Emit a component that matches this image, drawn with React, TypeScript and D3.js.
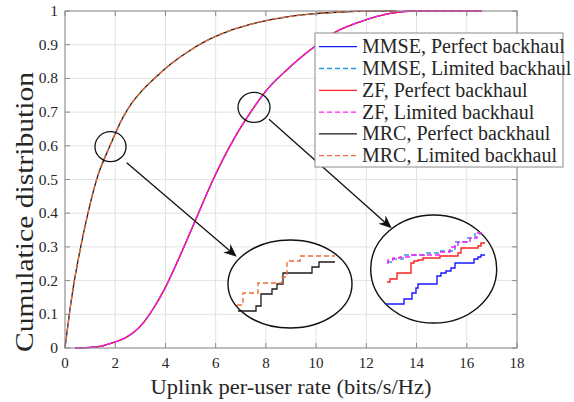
import React from 'react';
import * as d3 from 'd3';

const W = 574;
const H = 402;

// Axis ticks
const xTicks = [0, 2, 4, 6, 8, 10, 12, 14, 16, 18];
const yTicks = [0, 0.1, 0.2, 0.3, 0.4, 0.5, 0.6, 0.7, 0.8, 0.9, 1];
const yTickLabels = ['0', '0.1', '0.2', '0.3', '0.4', '0.5', '0.6', '0.7', '0.8', '0.9', '1'];

// MRC CDF (perfect and limited backhaul coincide)
const mrcRate = [0, 0.1, 0.2, 0.33, 0.62, 0.89, 1.26, 1.79, 2.32, 2.65, 3.0, 3.59, 4.2, 4.85, 5.64, 6.44, 7.37, 8.3, 9.76, 11.0, 12.2, 13.2];
const mrcCdf = [0, 0.058, 0.115, 0.18, 0.298, 0.392, 0.5, 0.6, 0.686, 0.726, 0.758, 0.802, 0.842, 0.877, 0.912, 0.938, 0.96, 0.976, 0.991, 0.997, 0.9995, 1.0];

// ZF / MMSE CDF (curves overlap at this scale)
const zfRate = [0.4, 1.0, 1.4, 2.0, 2.4, 3.1, 3.5, 4.0, 4.5, 5.2, 5.9, 6.7, 7.44, 8.03, 8.83, 9.76, 10.68, 11.75, 12.95, 14.0, 16.6];
const zfCdf = [0, 0.002, 0.005, 0.018, 0.03, 0.073, 0.115, 0.18, 0.26, 0.38, 0.5, 0.617, 0.705, 0.765, 0.825, 0.884, 0.934, 0.968, 0.993, 1.0, 1.0];

const seriesNames = [
  'MMSE, Perfect backhaul',
  'MMSE, Limited backhaul',
  'ZF, Perfect backhaul',
  'ZF, Limited backhaul',
  'MRC, Perfect backhaul',
  'MRC, Limited backhaul',
];
const seriesColors = ['#1a1aff', '#2b9be0', '#ff2020', '#ff19ff', '#1a1a1a', '#f06a35'];
const seriesDashed = [false, true, false, true, false, true];
const seriesKind = ['zf', 'zf', 'zf', 'zf', 'mrc', 'mrc'];

// Magnified views (local units)
const inset1Perfect = [[2, 1], [20, 6], [25, 18], [36, 23], [41, 28], [47, 39], [76, 45], [83, 50], [99, 50]];
const inset1Limited = [[1, 7], [7, 19], [22, 29], [46, 35], [51, 51], [64, 56], [99, 56]];
const inset2MmsePerfect = [[1, 6], [19, 11], [27, 17], [31, 22], [33, 26], [52, 34], [56, 37], [61, 39], [66, 42], [70, 47], [89, 51], [93, 53], [96, 55], [100, 55]];
const inset2ZfPerfect = [[2, 28], [5, 31], [12, 37], [26, 47], [29, 49], [33, 50], [38, 52], [55, 54], [73, 57], [76, 62], [93, 64], [96, 67], [100, 67]];
const inset2ZfLimited = [[2, 47], [3, 50], [8, 52], [15, 53], [25, 55], [55, 58], [65, 63], [73, 68], [85, 72], [92, 77], [98, 79]];
const inset2MmseLimited = [[2, 48], [7, 51], [18, 55], [42, 57], [55, 59], [70, 68], [82, 72], [90, 76], [95, 78]];

const FONT = "'Liberation Serif', 'Times New Roman', Times, serif";

export default function App() {
  const left = 65, right = 517, top = 11, bottom = 348;
  const x = d3.scaleLinear().domain([0, 18]).range([left, right]);
  const y = d3.scaleLinear().domain([0, 1]).range([bottom, top]);

  const line = d3.line<[number, number]>().x(d => x(d[0])).y(d => y(d[1])).curve(d3.curveMonotoneX);
  const mrcPts: [number, number][] = mrcRate.map((r, i) => [r, mrcCdf[i]]);
  const zfPts: [number, number][] = zfRate.map((r, i) => [r, zfCdf[i]]);

  // inset scales
  const i1x = d3.scaleLinear().domain([0, 100]).range([236, 336]);
  const i1y = d3.scaleLinear().domain([0, 60]).range([312, 252]);
  const i2x = d3.scaleLinear().domain([0, 100]).range([385, 485]);
  const i2y = d3.scaleLinear().domain([0, 100]).range([310, 210]);
  const step1 = d3.line<number[]>().x(d => i1x(d[0])).y(d => i1y(d[1])).curve(d3.curveStepAfter);
  const step2 = d3.line<number[]>().x(d => i2x(d[0])).y(d => i2y(d[1])).curve(d3.curveStepAfter);

  const legX = 315, legY = 33, legW = 248, legH = 134, rowH = 21.8;

  const arrowHead = (x1: number, y1: number, x2: number, y2: number) => {
    const ang = Math.atan2(y2 - y1, x2 - x1);
    const L = 13, wd = 5.5, back = 9;
    const p = (dx: number, dy: number) => [x2 + dx * Math.cos(ang) - dy * Math.sin(ang), y2 + dx * Math.sin(ang) + dy * Math.cos(ang)];
    const a = p(-L, -wd), b = p(-back, 0), c = p(-L, wd);
    return `M${x2},${y2}L${a[0]},${a[1]}L${b[0]},${b[1]}L${c[0]},${c[1]}Z`;
  };

  const txt = { fontFamily: FONT };

  return (
    <svg width={W} height={H} style={{ position: 'absolute', left: 0, top: 0, background: '#fff' }}>
      <rect x={0} y={0} width={W} height={H} fill="#fff" />
      {/* grid */}
      {xTicks.map(t => (
        <line key={'gx' + t} x1={x(t)} x2={x(t)} y1={top} y2={bottom} stroke="#e3e3e3" strokeWidth={1} />
      ))}
      {yTicks.map(t => (
        <line key={'gy' + t} x1={left} x2={right} y1={y(t)} y2={y(t)} stroke="#e3e3e3" strokeWidth={1} />
      ))}
      {/* curves */}
      {seriesNames.map((n, i) => (
        <path key={n} d={line(seriesKind[i] === 'zf' ? zfPts : mrcPts) || ''} fill="none"
          stroke={seriesColors[i]} strokeWidth={1.3} strokeDasharray={seriesDashed[i] ? '5,3' : undefined} />
      ))}
      {/* axes box */}
      <rect x={left} y={top} width={right - left} height={bottom - top} fill="none" stroke="#8a8a8a" strokeWidth={1} />
      {xTicks.map(t => (
        <g key={'tx' + t}>
          <line x1={x(t)} x2={x(t)} y1={bottom} y2={bottom - 5} stroke="#8a8a8a" />
          <line x1={x(t)} x2={x(t)} y1={top} y2={top + 5} stroke="#8a8a8a" />
          <text x={x(t)} y={368} textAnchor="middle" fontSize={15} fill="#262626" style={txt}>{t}</text>
        </g>
      ))}
      {yTicks.map((t, i) => (
        <g key={'ty' + t}>
          <line x1={left} x2={left + 5} y1={y(t)} y2={y(t)} stroke="#8a8a8a" />
          <line x1={right} x2={right - 5} y1={y(t)} y2={y(t)} stroke="#8a8a8a" />
          <text x={58} y={y(t) + 5} textAnchor="end" fontSize={15.5} fill="#262626" style={txt}>{yTickLabels[i]}</text>
        </g>
      ))}
      <text x={291} y={394} textAnchor="middle" fontSize={21} fill="#262626" style={txt} textLength={281} lengthAdjust="spacingAndGlyphs">Uplink per-user rate (bits/s/Hz)</text>
      <text transform={`translate(33,212) rotate(-90)`} textAnchor="middle" fontSize={25} fill="#262626" style={txt} textLength={280} lengthAdjust="spacingAndGlyphs">Cumulatice distribution</text>

      {/* small circles */}
      <ellipse cx={110.5} cy={146.7} rx={15.5} ry={15} fill="none" stroke="#111" strokeWidth={1.3} />
      <ellipse cx={254} cy={107.3} rx={16} ry={15} fill="none" stroke="#111" strokeWidth={1.3} />
      {/* arrows */}
      <line x1={126.7} y1={162.7} x2={233} y2={253.5} stroke="#111" strokeWidth={1.3} />
      <path d={arrowHead(126.7, 162.7, 236.7, 256.7)} fill="#111" />
      <line x1={269} y1={119.3} x2={388.5} y2={225.5} stroke="#111" strokeWidth={1.3} />
      <path d={arrowHead(269, 119.3, 391.7, 228.3)} fill="#111" />
      {/* inset 1 */}
      <ellipse cx={290} cy={284} rx={62} ry={44} fill="#fff" stroke="#111" strokeWidth={1.4} />
      <path d={step1(inset1Perfect) || ''} fill="none" stroke="#1a1a1a" strokeWidth={1.3} />
      <path d={step1(inset1Limited) || ''} fill="none" stroke={seriesColors[5]} strokeWidth={1.3} strokeDasharray="5,3" />
      {/* inset 2 */}
      <ellipse cx={433.7} cy={269} rx={63} ry={54} fill="#fff" stroke="#111" strokeWidth={1.4} />
      <path d={step2(inset2MmsePerfect) || ''} fill="none" stroke={seriesColors[0]} strokeWidth={1.4} />
      <path d={step2(inset2ZfPerfect) || ''} fill="none" stroke={seriesColors[2]} strokeWidth={1.4} />
      <path d={step2(inset2MmseLimited) || ''} fill="none" stroke={seriesColors[1]} strokeWidth={1.4} strokeDasharray="5,3" />
      <path d={step2(inset2ZfLimited) || ''} fill="none" stroke={seriesColors[3]} strokeWidth={1.4} strokeDasharray="5,3" />

      {/* legend */}
      <rect x={legX} y={legY} width={legW} height={legH} fill="#fff" stroke="#8a8a8a" strokeWidth={1} />
      {seriesNames.map((n, i) => {
        const cy = legY + 13.7 + i * rowH;
        return (
          <g key={'lg' + n}>
            <line x1={319} x2={357} y1={cy} y2={cy} stroke={seriesColors[i]} strokeWidth={1.3}
              strokeDasharray={seriesDashed[i] ? '5,3' : undefined} />
            <text x={362} y={cy + 6.5} fontSize={20} fill="#262626" style={txt}>{n}</text>
          </g>
        );
      })}
    </svg>
  );
}
